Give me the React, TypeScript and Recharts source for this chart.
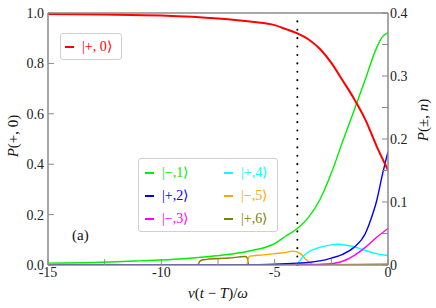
import { LineChart, Line, XAxis, YAxis, ReferenceLine } from "recharts";

const xTicks = [-15, -12.5, -10, -7.5, -5, -2.5, 0];
const leftTicks = [0, 0.2, 0.4, 0.6, 0.8, 1];
const rightTicks = [0, 0.05, 0.1, 0.15, 0.2, 0.25, 0.3, 0.35, 0.4];

// P(+,0), left axis
const redT = [-15, -12.5, -10, -7.5, -6, -5, -4.5, -4, -3.5, -3, -2.5, -2, -1.5, -1, -0.5, 0];
const redV = [0.996, 0.994, 0.99, 0.978, 0.965, 0.952, 0.936, 0.919, 0.895, 0.857, 0.802, 0.732, 0.66, 0.577, 0.471, 0.377];

// P(±,n), right axis
const greenT = [-15, -13, -11, -10, -9, -8, -7, -6, -5, -4.5, -4, -3.5, -3, -2.5, -2, -1.5, -1, -0.5, -0.25, 0];
const greenV = [0.003, 0.004, 0.0065, 0.008, 0.01, 0.013, 0.017, 0.023, 0.034, 0.046, 0.058, 0.076, 0.104, 0.146, 0.196, 0.245, 0.295, 0.345, 0.362, 0.369];

const blueT = [-15, -7, -6, -5, -4.5, -4, -3.5, -3, -2.5, -2, -1.5, -1, -0.75, -0.5, -0.25, 0];
const blueV = [0, 0, 0.0005, 0.0012, 0.002, 0.003, 0.004, 0.0065, 0.011, 0.017, 0.028, 0.05, 0.073, 0.102, 0.143, 0.18];

const magentaT = [-15, -4, -3.5, -3, -2.5, -2, -1.5, -1, -0.5, 0];
const magentaV = [0, 0, 0.0005, 0.001, 0.002, 0.006, 0.015, 0.028, 0.044, 0.058];

const cyanT = [-15, -4.05, -3.9, -3.75, -3.5, -3, -2.5, -2.2, -1.5, -1, -0.5, 0];
const cyanV = [0, 0, 0.006, 0.013, 0.021, 0.028, 0.032, 0.033, 0.029, 0.023, 0.018, 0.015];

const orangeT = [-15, -6.22, -6.18, -6.1, -5.5, -5, -4.5, -4.2, -3.9, -3.7, -3.5, -3.3, -2, 0];
const orangeV = [0, 0, 0.008, 0.014, 0.016, 0.018, 0.02, 0.022, 0.019, 0.012, 0.005, 0.001, 0.001, 0.002];

const oliveT = [-15, -8.4, -8.3, -8.2, -8, -7, -6.3, -6.22, -6.15, -6.1, 0];
const oliveV = [0, 0, 0.006, 0.008, 0.009, 0.011, 0.0135, 0.012, 0.001, 0, 0];

const toData = (t: number[], v: number[]) => t.map((x, i) => ({ t: x, v: v[i] }));

const series = [
  { name: "|−,1⟩", color: "#00ee00", t: greenT, v: greenV },
  { name: "|+,2⟩", color: "#0000ff", t: blueT, v: blueV },
  { name: "|−,3⟩", color: "#ff00ff", t: magentaT, v: magentaV },
  { name: "|+,4⟩", color: "#00ffff", t: cyanT, v: cyanV },
  { name: "|−,5⟩", color: "#ffa500", t: orangeT, v: orangeV },
  { name: "|+,6⟩", color: "#808000", t: oliveT, v: oliveV },
];

const serif = "'Liberation Serif', 'Times New Roman', serif";
const frame = "#8a8a8a";
const tickStyle = { fill: "#222", fontSize: 14, fontFamily: serif };

function LegendItem({ name, color }: { name: string; color: string }) {
  return (
    <div style={{ display: "flex", alignItems: "center", height: 23 }}>
      <div style={{ width: 9, height: 2, background: color, marginRight: 8 }} />
      <span style={{ color, fontFamily: serif, fontSize: 14 }}>{name}</span>
    </div>
  );
}

export default function App() {
  return (
    <div style={{ position: "absolute", left: 0, top: 0, width: 436, height: 308, background: "#fff" }}>
      <LineChart width={436} height={308} margin={{ top: 8, right: 8, bottom: 13, left: 8 }}>
        <XAxis
          xAxisId="b"
          type="number"
          dataKey="t"
          domain={[-15, 0]}
          ticks={xTicks}
          interval={0}
          height={30}
          allowDataOverflow
          axisLine={{ stroke: frame, strokeWidth: 1.5 }}
          tickLine={{ stroke: frame }}
          tickSize={-6}
          tickMargin={8}
          tick={tickStyle}
          tickFormatter={(v: number) => (Number.isInteger(v) ? String(v) : "")}
        />
        <XAxis
          xAxisId="top"
          orientation="top"
          type="number"
          domain={[-15, 0]}
          ticks={xTicks}
          interval={0}
          height={5}
          allowDataOverflow
          axisLine={{ stroke: frame, strokeWidth: 1.5 }}
          tickLine={{ stroke: frame }}
          tickSize={-6}
          tick={tickStyle}
          tickFormatter={() => ""}
        />
        <YAxis
          yAxisId="l"
          type="number"
          domain={[0, 1]}
          ticks={leftTicks}
          interval={0}
          width={40}
          allowDataOverflow
          axisLine={{ stroke: frame, strokeWidth: 1.5 }}
          tickLine={{ stroke: frame }}
          tickSize={-6}
          tickMargin={10}
          tick={tickStyle}
          tickFormatter={(v: number) => v.toFixed(1)}
        />
        <YAxis
          yAxisId="r"
          orientation="right"
          type="number"
          domain={[0, 0.4]}
          ticks={rightTicks}
          interval={0}
          width={40}
          allowDataOverflow
          axisLine={{ stroke: frame, strokeWidth: 1.5 }}
          tickLine={{ stroke: frame }}
          tickSize={-6}
          tickMargin={8}
          tick={tickStyle}
          tickFormatter={(v: number) => {
            const k = Math.round(v * 100);
            if (k % 10 !== 0) return "";
            return k === 0 ? "0" : v.toFixed(1);
          }}
        />
        <ReferenceLine
          xAxisId="b"
          yAxisId="l"
          x={-4}
          stroke="#000"
          strokeWidth={2}
          strokeLinecap="round"
          strokeDasharray="0.1 8.3"
        />
        {series
          .slice()
          .reverse()
          .map((s) => (
            <Line
              key={s.name}
              xAxisId="b"
              yAxisId="r"
              data={toData(s.t, s.v)}
              dataKey="v"
              name={s.name}
              type="monotone"
              stroke={s.color}
              strokeWidth={1.4}
              dot={false}
              isAnimationActive={false}
            />
          ))}
        <Line
          xAxisId="b"
          yAxisId="l"
          data={toData(redT, redV)}
          dataKey="v"
          name="|+, 0⟩"
          type="monotone"
          stroke="#ff0000"
          strokeWidth={2}
          dot={false}
          isAnimationActive={false}
        />
      </LineChart>

      <div
        style={{
          position: "absolute",
          left: 60,
          top: 33,
          width: 62,
          height: 27,
          boxSizing: "border-box",
          border: "1px solid #d0d0d0",
          borderRadius: 3,
          background: "#fff",
          paddingLeft: 4,
          display: "flex",
          alignItems: "center",
        }}
      >
        <LegendItem name="|+, 0⟩" color="#ff0000" />
      </div>

      <div
        style={{
          position: "absolute",
          left: 138,
          top: 158,
          width: 140,
          height: 74,
          boxSizing: "border-box",
          border: "1px solid #d0d0d0",
          borderRadius: 3,
          background: "#fff",
          padding: "2px 0 0 6px",
          display: "grid",
          gridTemplateColumns: "79px 60px",
          gridAutoFlow: "column",
          gridTemplateRows: "23px 23px 23px",
        }}
      >
        {series.map((s) => (
          <LegendItem key={s.name} name={s.name} color={s.color} />
        ))}
      </div>

      <div style={{ position: "absolute", left: 72, top: 227, fontFamily: serif, fontSize: 15, color: "#111" }}>(a)</div>

      <div
        style={{
          position: "absolute",
          left: 13,
          top: 136,
          transform: "translate(-50%, -50%) rotate(-90deg)",
          whiteSpace: "nowrap",
          fontFamily: serif,
          fontSize: 15,
          color: "#111",
        }}
      >
        <i>P</i>(+, 0)
      </div>

      <div
        style={{
          position: "absolute",
          left: 423,
          top: 120,
          transform: "translate(-50%, -50%) rotate(-90deg)",
          whiteSpace: "nowrap",
          fontFamily: serif,
          fontSize: 15,
          color: "#111",
        }}
      >
        <i>P</i>(±, <i>n</i>)
      </div>

      <div
        style={{
          position: "absolute",
          left: 218,
          top: 293,
          transform: "translate(-50%, -50%)",
          whiteSpace: "nowrap",
          fontFamily: serif,
          fontSize: 15,
          color: "#111",
        }}
      >
        <i>v</i>(<i>t</i> − <i>T</i>)/<i>ω</i>
      </div>
    </div>
  );
}
